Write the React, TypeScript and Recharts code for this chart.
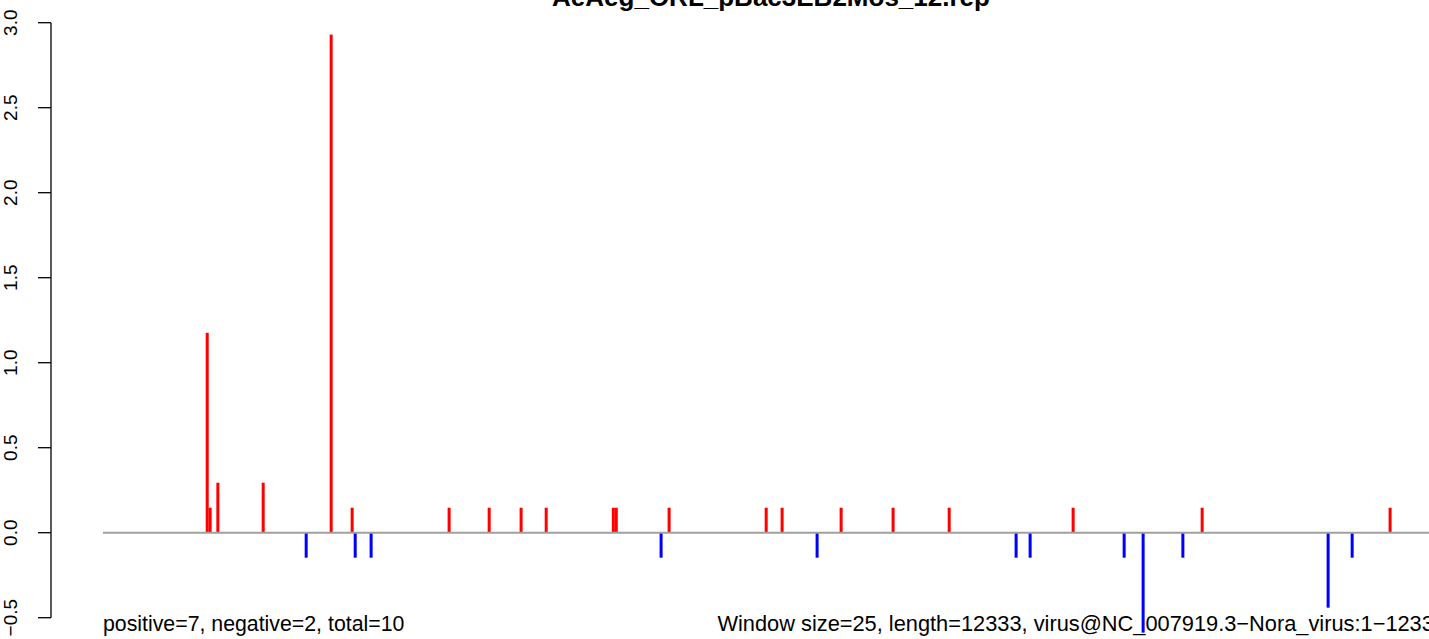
import React from "react";
import { BarChart, Bar, Cell, XAxis, YAxis, ReferenceLine } from "recharts";

// positions along the genome and the window scores
const posPositions = [990, 1018, 1091, 1521, 2166, 2365, 3285, 3665, 3968, 4206, 4843, 4871, 5372, 6293, 6444, 7004, 7497, 8029, 9205, 10429, 12212];
const posValues = [1.176, 0.147, 0.294, 0.294, 2.93, 0.147, 0.147, 0.147, 0.147, 0.147, 0.147, 0.147, 0.147, 0.147, 0.147, 0.147, 0.147, 0.147, 0.147, 0.147, 0.147];
const negPositions = [1929, 2394, 2545, 5296, 6776, 8664, 8797, 9689, 9869, 10246, 11624, 11852];
const negValues = [-0.147, -0.147, -0.147, -0.147, -0.147, -0.147, -0.147, -0.147, -0.588, -0.147, -0.441, -0.147];
const yTicks = [-0.5, 0, 0.5, 1, 1.5, 2, 2.5, 3];

const seqLength = 12333;
const title = "AeAeg_ORL_pBac3EB2Mos_12.rep";
const leftNote = "positive=7, negative=2, total=10";
const rightNote = "Window size=25, length=12333, virus@NC_007919.3\u2212Nora_virus:1\u221212333";

const FONT = '"Liberation Sans", Arial, Helvetica, sans-serif';
const xPad = seqLength * 0.04;
const xMin = -xPad;
const xMax = seqLength + xPad;

const data = [
  ...posPositions.map((p, i) => ({ pos: p, value: posValues[i] })),
  ...negPositions.map((p, i) => ({ pos: p, value: negValues[i] })),
].sort((a, b) => a.pos - b.pos);

const fmt = (v: number) => (v < 0 ? "\u2212" + Math.abs(v).toFixed(1) : v.toFixed(1));

function RotTick(props: any) {
  const { x, y, payload } = props;
  return (
    <text
      x={x}
      y={y}
      transform={`rotate(-90, ${x}, ${y})`}
      textAnchor="middle"
      fontFamily={FONT}
      fontSize={19}
      fill="#000"
    >
      {fmt(payload.value)}
    </text>
  );
}

// type="h" style spike, fixed 3px wide, centred on the position
function Spike(props: any) {
  const { x, y, width, height, fill } = props;
  const top = height < 0 ? y + height : y;
  return <rect x={x + width / 2 - 1.5} y={top} width={3} height={Math.abs(height)} fill={fill} />;
}

export default function App() {
  return (
    <div style={{ position: "fixed", left: 0, top: 0, width: 1429, height: 639, overflow: "hidden", background: "#fff" }}>
      <BarChart width={1460} height={680} data={data} margin={{ top: 5.7, right: 5, bottom: 19.8, left: 0 }}>
        <XAxis dataKey="pos" type="number" domain={[xMin, xMax]} allowDataOverflow hide />
        <YAxis
          type="number"
          domain={[-0.75, 3.1]}
          allowDataOverflow
          ticks={yTicks}
          width={51}
          axisLine={false}
          tickLine={{ stroke: "#000", strokeWidth: 1.3 }}
          tickSize={13}
          tickMargin={20.5}
          tick={<RotTick />}
        />
        <Bar dataKey="value" barSize={3} isAnimationActive={false} shape={<Spike />}>
          {data.map((d, i) => (
            <Cell key={i} fill={d.value > 0 ? "#ff0000" : "#0000ff"} />
          ))}
        </Bar>
        <ReferenceLine
          segment={[{ x: 0, y: 0 }, { x: xMax, y: 0 }]}
          stroke="#a0a0a0"
          strokeWidth={2}
        />
        <ReferenceLine
          segment={[{ x: xMin, y: -0.5 }, { x: xMin, y: 3 }]}
          stroke="#000"
          strokeWidth={1.3}
        />
      </BarChart>
      <svg width={1429} height={639} style={{ position: "absolute", left: 0, top: 0, pointerEvents: "none" }}>
        <text x={771} y={5.5} textAnchor="middle" fontFamily={FONT} fontWeight="bold" fontSize={26} fill="#000">
          {title}
        </text>
        <text x={103} y={631} fontFamily={FONT} fontSize={21.3} fill="#000">
          {leftNote}
        </text>
        <text x={1446} y={631} textAnchor="end" fontFamily={FONT} fontSize={21.8} fill="#000">
          {rightNote}
        </text>
      </svg>
    </div>
  );
}
